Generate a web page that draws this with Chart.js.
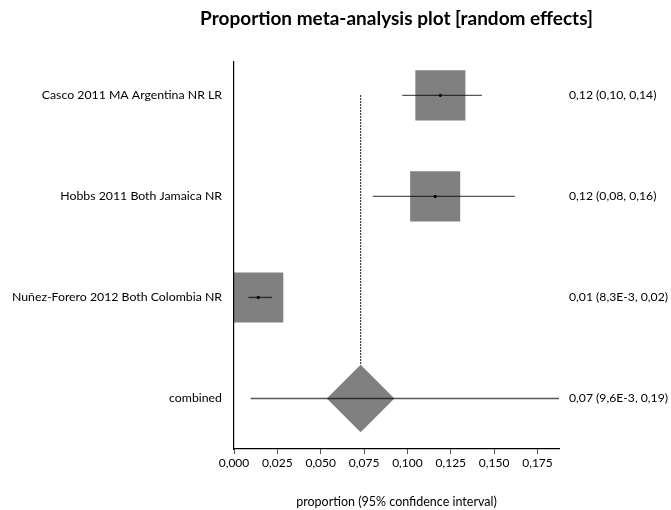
<!DOCTYPE html>
<html lang="en">
<head>
<meta charset="UTF-8" />
<title>Proportion meta-analysis plot</title>
<style>
  body { margin: 0; background: #fff; }
  .wrap { width: 671px; height: 510px; position: relative; }
</style>
<script src="https://cdn.jsdelivr.net/npm/chart.js"></script>
</head>
<body>
<div class="wrap"><canvas id="forest"></canvas></div>
<script>
  // rows top to bottom, last one is the pooled (random effects) estimate
  const studies = ['Casco 2011 MA Argentina NR LR', 'Hobbs 2011 Both Jamaica NR', 'Nuñez-Forero 2012 Both Colombia NR', 'combined'];
  const proportion = [0.119, 0.116, 0.014, 0.073];
  const ciLow = [0.097, 0.080, 0.0083, 0.0096];
  const ciHigh = [0.143, 0.162, 0.022, 0.19];
  const rows = [1, 2, 3, 4];
  const chartTitle = 'Proportion meta-analysis plot [random effects]';

  // 2 decimals, small values in E notation, comma decimal separator
  function fmt(v) {
    if (v < 0.01) return v.toExponential(1).replace('e', 'E').replace('.', ',');
    return v.toFixed(2).replace('.', ',');
  }
  const summaryText = proportion.map((p, i) => fmt(p) + ' (' + fmt(ciLow[i]) + ', ' + fmt(ciHigh[i]) + ')');

  const nStudies = studies.length - 1;
  const pooled = proportion[nStudies];
  const datasets = [];

  // point estimates
  datasets.push({
    data: rows.slice(0, nStudies).map((r, i) => ({ x: proportion[i], y: r })),
    showLine: false, pointRadius: 1.6, pointBackgroundColor: '#000', pointBorderWidth: 0, order: 0
  });
  // confidence intervals
  rows.forEach((r, i) => {
    datasets.push({
      data: [{ x: ciLow[i], y: r }, { x: ciHigh[i], y: r }],
      showLine: true, borderColor: 'rgba(0,0,0,0.66)', borderWidth: 1.4,
      pointRadius: 0, clip: 0, order: 1
    });
  });
  // study boxes
  datasets.push({
    data: rows.slice(0, nStudies).map((r, i) => ({ x: proportion[i], y: r })),
    showLine: false, pointStyle: 'rect', pointRadius: 35.4,
    pointBackgroundColor: '#808080', pointBorderWidth: 0, clip: false, order: 2
  });
  // pooled diamond
  datasets.push({
    data: [{ x: pooled, y: rows[nStudies] }],
    showLine: false, pointStyle: 'rectRot', pointRadius: 33.8,
    pointBackgroundColor: '#808080', pointBorderWidth: 0, clip: false, order: 2
  });
  // dotted line at the pooled estimate
  datasets.push({
    data: [{ x: pooled, y: rows[0] }, { x: pooled, y: rows[nStudies] }],
    showLine: true, borderColor: '#000', borderWidth: 1.2, borderDash: [1.5, 1.5],
    pointRadius: 0, order: 3
  });

  Chart.defaults.font.family = "Lato, 'Open Sans', sans-serif";
  Chart.defaults.color = '#000';

  const rowTicks = scale => { scale.ticks = rows.map(v => ({ value: v })); };

  // title centred over the plot area (the built-in title squeezes text to the box width)
  const plotTitle = {
    id: 'plotTitle',
    afterDraw(chart) {
      const { ctx, chartArea } = chart;
      ctx.save();
      ctx.font = "bold 19px Lato, 'Open Sans', sans-serif";
      ctx.fillStyle = '#000';
      ctx.textAlign = 'center';
      ctx.textBaseline = 'middle';
      ctx.fillText(chartTitle, (chartArea.left + chartArea.right) / 2, 19);
      ctx.restore();
    }
  };

  new Chart(document.getElementById('forest'), {
    type: 'scatter',
    data: { datasets: datasets },
    plugins: [plotTitle],
    options: {
      responsive: true,
      maintainAspectRatio: false,
      animation: false,
      events: [],
      layout: { padding: { top: 62, right: 0, bottom: 0, left: 0 } },
      plugins: {
        legend: { display: false },
        tooltip: { enabled: false },
        title: { display: false }
      },
      scales: {
        x: {
          type: 'linear', position: 'bottom', min: 0, max: 0.1874,
          ticks: {
            stepSize: 0.025, includeBounds: false, padding: 2, color: '#000',
            font: { size: 12 },
            callback: v => v.toFixed(3).replace('.', ',')
          },
          grid: { display: true, drawOnChartArea: false, drawTicks: true, tickLength: 5, color: '#555' },
          border: { display: true, color: '#000', width: 1.2 },
          title: {
            display: true, text: 'proportion (95% confidence interval)',
            font: { size: 12.5 }, color: '#000', padding: { top: 0, bottom: 1 }
          },
          afterFit: s => { s.height = 61; }
        },
        y: {
          type: 'linear', position: 'left', reverse: true, min: 0.67, max: 4.5,
          afterBuildTicks: rowTicks,
          ticks: { autoSkip: false, padding: 12, font: { size: 12.3 }, color: '#000', callback: v => studies[v - 1] },
          grid: { display: false, drawTicks: false },
          border: { display: true, color: '#000', width: 1.2, z: 1 },
          afterFit: s => { s.width = 234; }
        },
        y2: {
          type: 'linear', position: 'right', reverse: true, min: 0.67, max: 4.5,
          afterBuildTicks: rowTicks,
          ticks: { autoSkip: false, padding: 10, font: { size: 12.2 }, color: '#000', callback: v => summaryText[v - 1] },
          grid: { display: false, drawTicks: false },
          border: { display: false },
          afterFit: s => { s.width = 112; }
        }
      }
    }
  });
</script>
</body>
</html>
